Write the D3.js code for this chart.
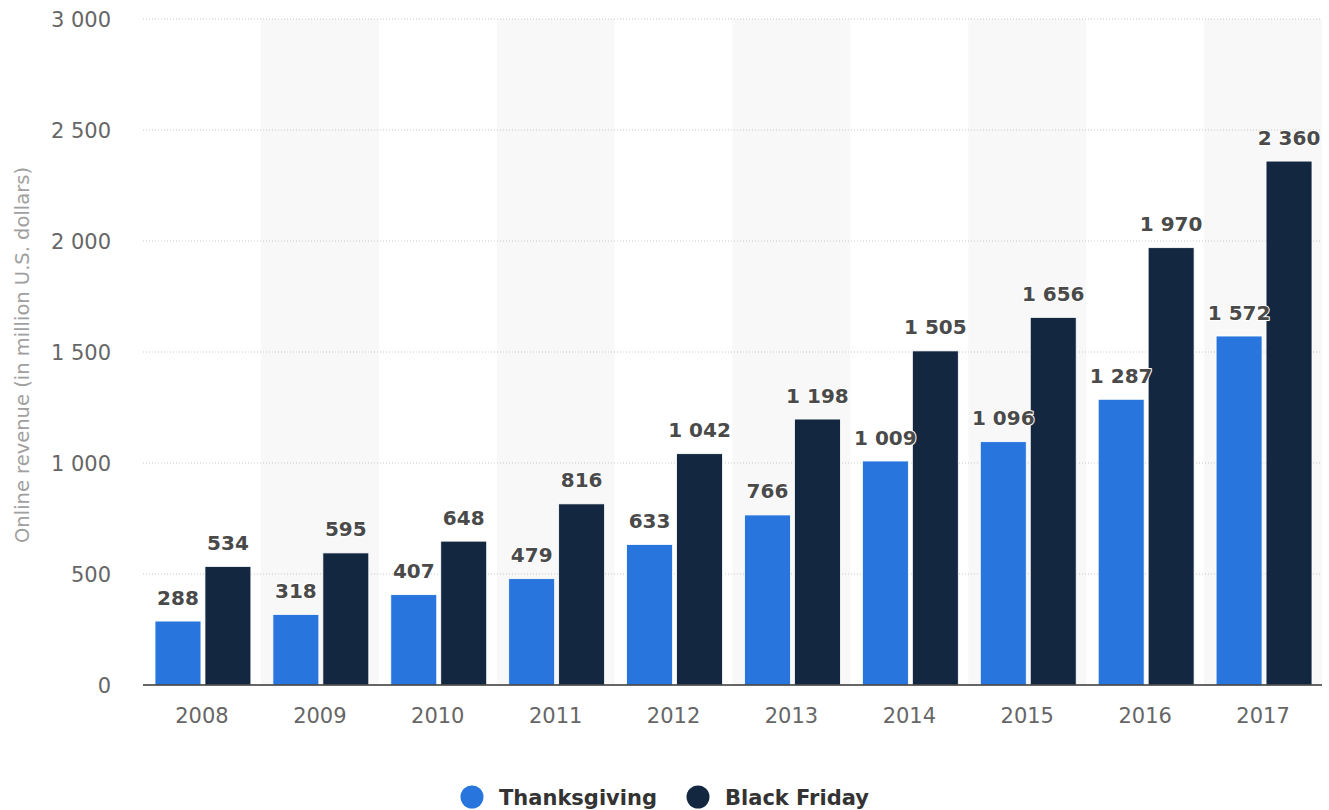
<!DOCTYPE html>
<html><head><meta charset="utf-8">
<script src="https://cdn.jsdelivr.net/npm/d3@7"></script>
<style>body{margin:0;background:#fff;font-family:"DejaVu Sans",sans-serif;}</style>
</head><body>
<svg id="c" width="1329" height="810"></svg>
<script>
const years = ["2008","2009","2010","2011","2012","2013","2014","2015","2016","2017"];
const thanksgiving = [288,318,407,479,633,766,1009,1096,1287,1572];
const blackFriday = [534,595,648,816,1042,1198,1505,1656,1970,2360];
const seriesNames = ["Thanksgiving","Black Friday"];
const seriesColors = ["#2876dd","#132840"];
const yTicks = [0,500,1000,1500,2000,2500,3000];

const FONT = '"DejaVu Sans",Verdana,sans-serif';
const svg = d3.select("#c");
const pLeft = 143, pRight = 1322, pTop = 19, pBottom = 685;
const fmt = v => d3.format(",")(v).replace(/,/g, " ");

const x = d3.scaleBand().domain(years).range([pLeft, pRight]);
const xs = d3.scaleBand().domain(seriesNames).range([12, x.bandwidth()-10]).paddingInner(0.08);
const y = d3.scaleLinear().domain([0,3000]).range([pBottom, pTop]);

// alternating bands
svg.append("g").selectAll("rect").data(years.filter((d,i)=>i%2===1)).join("rect")
  .attr("x", d=>x(d)).attr("y", pTop).attr("width", x.bandwidth()).attr("height", pBottom-pTop)
  .attr("fill", "#f8f8f8");

// grid
svg.append("g").selectAll("line").data(yTicks.filter(d=>d>0)).join("line")
  .attr("x1", pLeft).attr("x2", pRight).attr("y1", d=>y(d)).attr("y2", d=>y(d))
  .attr("stroke", "#c8c8c8").attr("stroke-dasharray", "1,2");

// y axis labels
const yAxis = d3.axisLeft(y).tickValues(yTicks).tickFormat(fmt).tickSize(0).tickPadding(0);
const ya = svg.append("g").attr("transform", `translate(111,0)`).call(yAxis);
ya.select(".domain").remove();
ya.selectAll("text").attr("fill", "#666").attr("font-size", "21px").attr("font-family", FONT).attr("dy", "0.36em");

// y axis title
svg.append("text").attr("transform", "translate(29,355) rotate(-90)")
  .attr("text-anchor", "middle").attr("fill", "#a0a0a0").attr("font-size", "19.5px").attr("font-family", FONT)
  .text("Online revenue (in million U.S. dollars)");

// bars
const data = [thanksgiving, blackFriday];
seriesNames.forEach((s, si) => {
  const g = svg.append("g");
  g.selectAll("rect").data(years).join("rect")
    .attr("x", d=>x(d)+xs(s)).attr("width", xs.bandwidth())
    .attr("y", (d,i)=>y(data[si][i])).attr("height", (d,i)=>pBottom-y(data[si][i]))
    .attr("fill", seriesColors[si]).attr("stroke", "#ffffff").attr("stroke-width", 0.8);
});
seriesNames.forEach((s, si) => {
  svg.append("g").selectAll("text").data(years).join("text")
    .attr("x", d=>x(d)+xs(s)+xs.bandwidth()/2).attr("y", (d,i)=>y(data[si][i])-16.5)
    .attr("text-anchor", "middle").attr("font-size", "20px").attr("font-weight", "bold").attr("font-family", FONT)
    .attr("fill", "#4a4a4a").attr("stroke", "#fff").attr("stroke-width", 2).attr("paint-order", "stroke")
    .attr("stroke-linejoin", "round")
    .text((d,i)=>fmt(data[si][i]));
});

// x axis
svg.append("line").attr("x1", pLeft).attr("x2", pRight).attr("y1", pBottom).attr("y2", pBottom)
  .attr("stroke", "#333").attr("stroke-width", 1.5);
const xAxis = d3.axisBottom(x).tickSize(0).tickPadding(0);
const xa = svg.append("g").attr("transform", `translate(0,${pBottom+38})`).call(xAxis);
xa.select(".domain").remove();
xa.selectAll("text").attr("fill", "#666").attr("font-size", "21px").attr("font-family", FONT).attr("dy", 0);

// legend
const legX = [472, 698];
seriesNames.forEach((s, si) => {
  svg.append("circle").attr("cx", legX[si]).attr("cy", 797).attr("r", 11.5).attr("fill", seriesColors[si]);
  svg.append("text").attr("x", legX[si]+27).attr("y", 805).attr("font-size", "21px").attr("font-weight", "bold")
    .attr("font-family", FONT).attr("fill", "#333").text(s);
});
</script>
</body></html>
